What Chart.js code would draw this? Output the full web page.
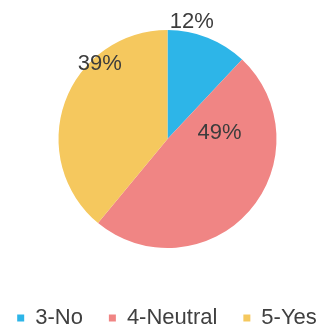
<!DOCTYPE html>
<html>
<head>
<meta charset="utf-8">
<script src="https://cdn.jsdelivr.net/npm/chart.js@4"></script>
<style>
  html, body { margin: 0; padding: 0; background: #fff; }
  #wrap { width: 331px; height: 331px; }
</style>
</head>
<body>
<div id="wrap"><canvas id="pie-chart"></canvas></div>
<script>
var categories = ['3-No', '4-Neutral', '5-Yes'];
var answers = [12, 49, 39];
var sliceColors = ['#2db5e8', '#f08584', '#f5c85e'];

// where each percent label sits: fraction along the slice angle, fraction of radius
var labelSpots = [
    { along: 0.27, out: 1.10 },
    { along: 0.23, out: 0.48 },
    { along: 0.70, out: 0.925 }
];

var percentLabels = {
    id: 'percentLabels',
    afterDatasetsDraw: function(chart) {
        var ctx = chart.ctx;
        var meta = chart.getDatasetMeta(0);
        var total = answers.reduce(function(a, b) { return a + b; }, 0);
        ctx.save();
        ctx.font = '22px "Liberation Sans", Arial, sans-serif';
        ctx.fillStyle = '#3c3c3c';
        ctx.textAlign = 'center';
        ctx.textBaseline = 'middle';
        meta.data.forEach(function(arc, i) {
            var p = arc.getProps(['x', 'y', 'startAngle', 'endAngle', 'outerRadius'], true);
            var spot = labelSpots[i];
            var a = p.startAngle + spot.along * (p.endAngle - p.startAngle);
            var r = spot.out * p.outerRadius;
            var txt = Math.round(answers[i] / total * 100) + '%';
            ctx.fillText(txt, p.x + Math.cos(a) * r, p.y + Math.sin(a) * r);
        });
        ctx.restore();
    }
};

// nudge the pie a little, the legend keeps its place
var pieShift = {
    id: 'pieShift',
    afterLayout: function(chart) {
        var a = chart.chartArea;
        a.left += 2; a.right += 2;
        a.top -= 1.5; a.bottom -= 1.5;
    }
};

new Chart(document.getElementById('pie-chart'), {
    type: 'pie',
    data: {
        labels: categories,
        datasets: [{
            data: answers,
            backgroundColor: sliceColors,
            borderWidth: 0
        }]
    },
    options: {
        responsive: true,
        maintainAspectRatio: false,
        animation: false,
        radius: 109,
        layout: { padding: { left: -17, right: -20, top: 0, bottom: 0 } },
        plugins: {
            legend: {
                position: 'bottom',
                maxHeight: 50,
                labels: {
                    boxWidth: 7,
                    boxHeight: 7,
                    padding: 26,
                    color: '#404040',
                    font: { family: '"Liberation Sans", Arial, sans-serif', size: 22 }
                }
            },
            tooltip: { enabled: false }
        }
    },
    plugins: [pieShift, percentLabels]
});
</script>
</body>
</html>
